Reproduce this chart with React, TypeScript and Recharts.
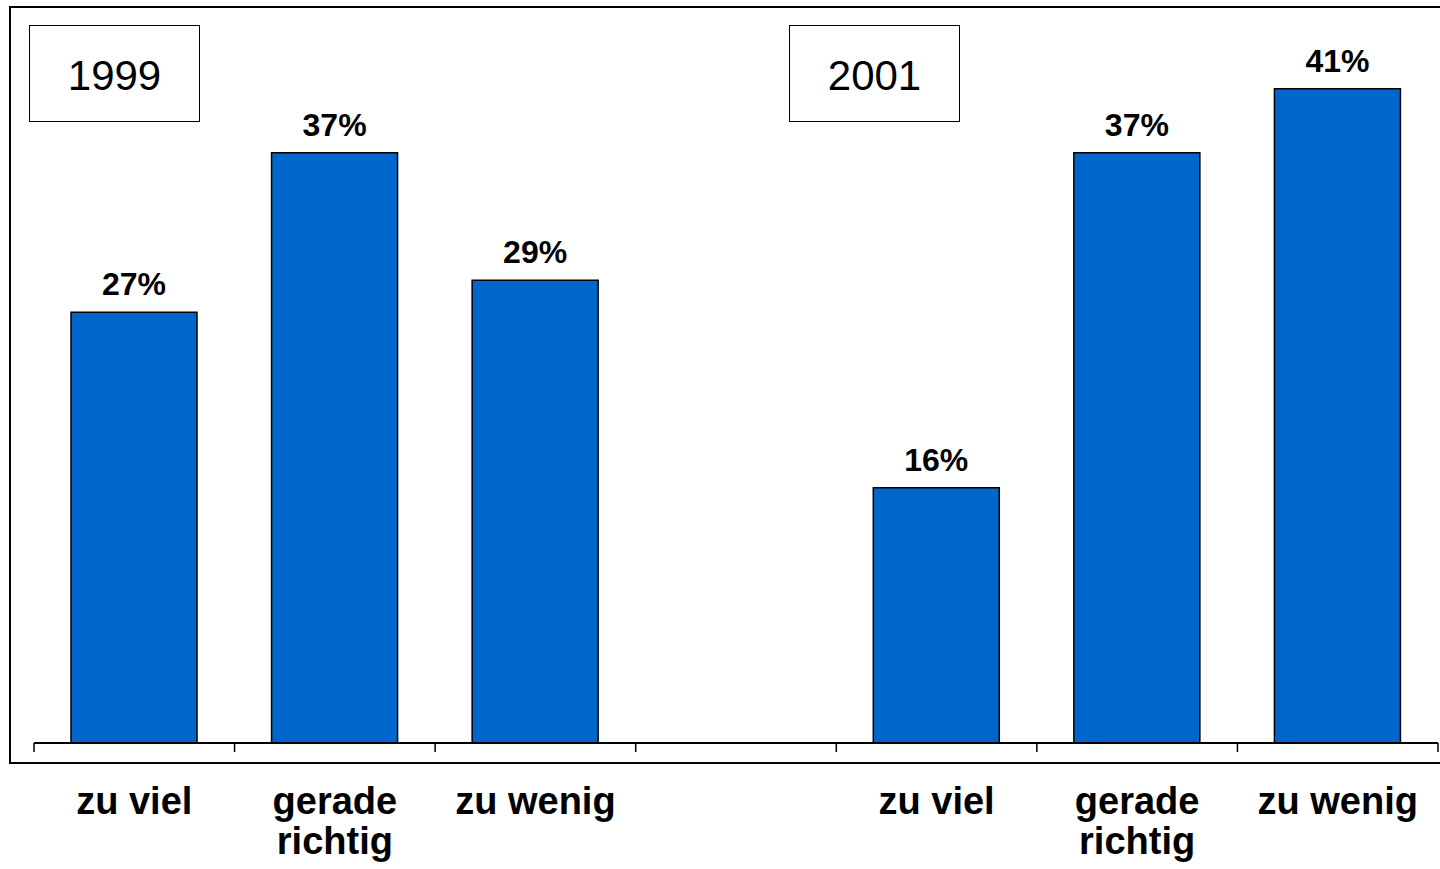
import React from "react";
import { BarChart, Bar, XAxis, YAxis, LabelList } from "recharts";

const categories: string[] = [
  "zu viel",
  "gerade\nrichtig",
  "zu wenig",
  "",
  "zu viel",
  "gerade\nrichtig",
  "zu wenig",
];
const values: (number | null)[] = [27, 37, 29, null, 16, 37, 41];
const yearLabels: string[] = ["1999", "2001"];

const data = categories.map((c, i) => ({ key: "c" + i, label: c, value: values[i] }));

const FONT = "'Liberation Sans', Arial, Helvetica, sans-serif";
const TICK_SIZE = 9;

const CategoryTick = (props: any) => {
  const { x, y, payload, index } = props;
  const half = payload && payload.offset ? payload.offset : 0;
  const label = categories[index] ?? "";
  const lines = label ? label.split("\n") : [];
  const lineY1 = y - TICK_SIZE;
  return (
    <g>
      <line x1={x - half} x2={x - half} y1={lineY1} y2={y} stroke="#000" strokeWidth={1.5} />
      {index === categories.length - 1 && (
        <line x1={x + half} x2={x + half} y1={lineY1} y2={y} stroke="#000" strokeWidth={1.5} />
      )}
      <text
        x={x}
        y={y + 62}
        textAnchor="middle"
        fontFamily={FONT}
        fontWeight="bold"
        fontSize={38}
        fill="#000"
      >
        {lines.map((l, i) => (
          <tspan key={i} x={x} dy={i === 0 ? 0 : 40}>
            {l}
          </tspan>
        ))}
      </text>
    </g>
  );
};

const yearBoxStyle = (left: number): React.CSSProperties => ({
  position: "absolute",
  left,
  top: 25,
  width: 171,
  height: 97,
  boxSizing: "border-box",
  border: "1.5px solid #000",
  background: "#fff",
  display: "flex",
  alignItems: "center",
  justifyContent: "center",
  fontFamily: FONT,
  fontSize: 42,
  color: "#000",
  lineHeight: 1,
  paddingTop: 4,
});

export default function App() {
  return (
    <div
      style={{
        position: "absolute",
        left: 0,
        top: 0,
        width: 1440,
        height: 869,
        overflow: "hidden",
        background: "#fff",
      }}
    >
      <div
        style={{
          position: "absolute",
          left: 9,
          top: 6,
          width: 1460,
          height: 758,
          boxSizing: "border-box",
          border: "2px solid #000",
        }}
      />
      <div style={{ position: "absolute", left: 0, top: 0 }}>
        <BarChart
          width={1440}
          height={869}
          data={data}
          margin={{ top: 25, right: 2, left: 34, bottom: 0 }}
          barSize={126}
        >
          <XAxis
            dataKey="key"
            height={126}
            interval={0}
            tickLine={false}
            tickSize={TICK_SIZE}
            tickMargin={0}
            axisLine={{ stroke: "#000", strokeWidth: 2 }}
            tick={<CategoryTick />}
          />
          <YAxis hide domain={[0, 45]} />
          <Bar
            dataKey="value"
            fill="#0066CC"
            stroke="#000"
            strokeWidth={1.5}
            isAnimationActive={false}
          >
            <LabelList
              dataKey="value"
              position="top"
              offset={17}
              formatter={(v: any) => (v == null ? "" : `${v}%`)}
              fill="#000"
              fontFamily={FONT}
              fontWeight="bold"
              fontSize={32}
            />
          </Bar>
        </BarChart>
      </div>
      <div style={yearBoxStyle(29)}>{yearLabels[0]}</div>
      <div style={yearBoxStyle(789)}>{yearLabels[1]}</div>
    </div>
  );
}
